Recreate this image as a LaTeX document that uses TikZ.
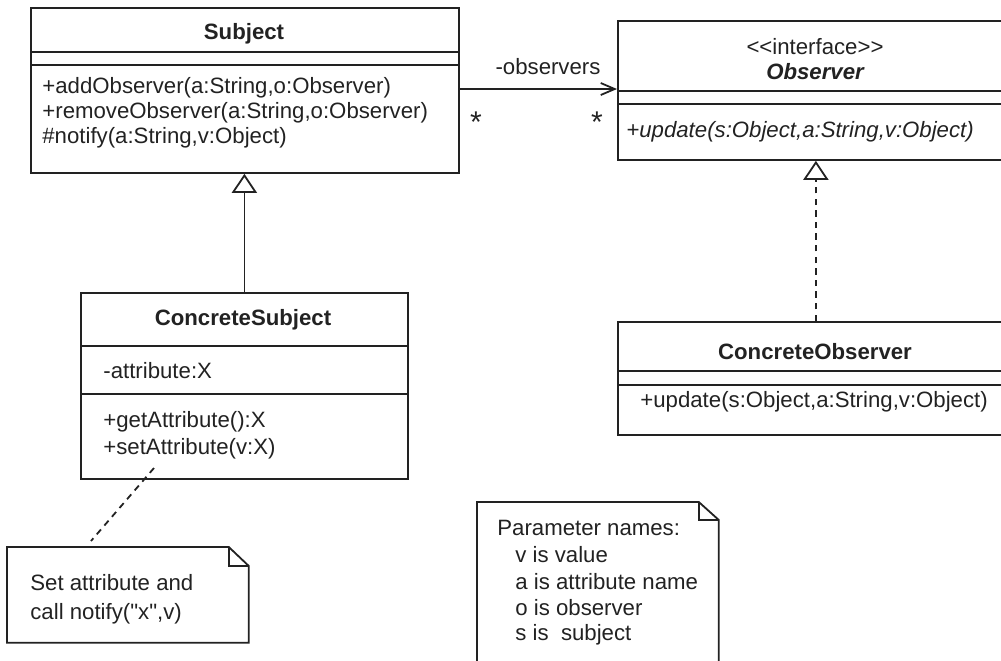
\documentclass[tikz,border=0pt]{standalone}
\usepackage{fontspec}
\setmainfont{Liberation Sans}
\newfontfamily\arialf{Liberation Sans}
\usetikzlibrary{arrows.meta}
\definecolor{ink}{HTML}{222222}
\begin{document}
\begin{tikzpicture}[x=0.5pt,y=-0.5pt,
  every node/.style={font=\arialf\fontsize{11.1pt}{12.5pt}\selectfont, text=ink},
  umlbox/.style={draw=ink, line width=0.9pt, inner sep=0, anchor=north west},
  hole/.style={inner sep=0, anchor=north west},
  txt/.style={inner sep=0, anchor=base west},
  ctxt/.style={inner sep=0, anchor=base},
  ln/.style={draw=ink, line width=0.9pt},
  gen/.style={ln, -{Triangle[open, length=9.5pt, width=12.5pt, fill=white]}},
  assoc/.style={ln, -{Straight Barb[length=7pt, width=6pt]}},
  dsh/.style={dash pattern=on 3.2pt off 2.6pt}
]
\useasboundingbox (0,0) rectangle (1001,660);
\clip (0,0) rectangle (1001,660);

% ---------- Subject ----------
\node[umlbox, minimum width=214pt, minimum height=82.5pt] (subject) at (30,7) {};
\draw[ln] (subject.west |- 0,52) -- (subject.east |- 0,52);
\draw[ln] (subject.west |- 0,65) -- (subject.east |- 0,65);
\node[ctxt, font=\arialf\fontsize{11.1pt}{12.5pt}\selectfont\bfseries] (subjt) at (244,39) {Subject};
\node[txt] (sm1) at (42,93) {+addObserver(a:String,o:Observer)};
\node[txt] (sm2) at (42,118) {+removeObserver(a:String,o:Observer)};
\node[txt] (sm3) at (42,143) {\#notify(a:String,v:Object)};

% ---------- Observer ----------
\node[umlbox, minimum width=198pt, minimum height=69.5pt] (observer) at (617,20) {};
\draw[ln] (observer.west |- 0,91) -- (observer.east |- 0,91);
\draw[ln] (observer.west |- 0,104) -- (observer.east |- 0,104);
\node[ctxt] (ster) at (815,54) {<<interface>>};
\node[ctxt, font=\arialf\fontsize{11.1pt}{12.5pt}\selectfont\bfseries\itshape] (obst) at (815,79) {Observer};
\node[txt, font=\arialf\fontsize{11.1pt}{12.5pt}\selectfont\itshape] (om1) at (626,137) {+update(s:Object,a:String,v:Object)};

% ---------- ConcreteSubject ----------
\node[umlbox, minimum width=163.5pt, minimum height=93pt] (csubject) at (80,292) {};
\draw[ln] (csubject.west |- 0,346) -- (csubject.east |- 0,346);
\draw[ln] (csubject.west |- 0,394) -- (csubject.east |- 0,394);
\node[ctxt, font=\arialf\fontsize{11.1pt}{12.5pt}\selectfont\bfseries] (cst) at (243,325) {ConcreteSubject};
\node[txt] (ca1) at (103,378) {-attribute:X};
\node[txt] (cm1) at (103,427) {+getAttribute():X};
\node[txt] (cm2) at (103,454) {+setAttribute(v:X)};

% ---------- ConcreteObserver ----------
\node[umlbox, minimum width=198pt, minimum height=56.5pt] (cobserver) at (617,321) {};
\draw[ln] (cobserver.west |- 0,371) -- (cobserver.east |- 0,371);
\draw[ln] (cobserver.west |- 0,385) -- (cobserver.east |- 0,385);
\node[ctxt, font=\arialf\fontsize{11.1pt}{12.5pt}\selectfont\bfseries] (cot) at (815,359) {ConcreteObserver};
\node[txt] (com1) at (640,407) {+update(s:Object,a:String,v:Object)};

% ---------- Notes ----------
\node[hole, minimum width=120.5pt, minimum height=47.5pt] (note1) at (7,547) {};
\draw[ln] (note1.north west) -- ([xshift=-10pt]note1.north east) -- ([yshift=-9.5pt]note1.north east)
  -- (note1.south east) -- (note1.south west) -- cycle;
\draw[ln] ([xshift=-10pt]note1.north east) |- ([yshift=-9.5pt]note1.north east);
\node[txt] (n1a) at (30,590) {Set attribute and};
\node[txt] (n1b) at (30,619) {call notify("x",v)};

\node[hole, minimum width=120.5pt, minimum height=89pt] (note2) at (477,502) {};
\draw[ln] (note2.north west) -- ([xshift=-10pt]note2.north east) -- ([yshift=-9pt]note2.north east)
  -- (note2.south east) -- (note2.south west) -- cycle;
\draw[ln] ([xshift=-10pt]note2.north east) |- ([yshift=-9pt]note2.north east);
\node[txt] (n2a) at (497,535) {Parameter names:};
\node[txt] (n2b) at (515,562) {v is value};
\node[txt] (n2c) at (515,589) {a is attribute name};
\node[txt] (n2d) at (515,615) {o is observer};
\node[txt] (n2e) at (515,640) {s is\ \ subject};

% ---------- Connectors ----------
\draw[assoc] (subject.east |- 0,89) -- (observer.west |- 0,89);
\node[ctxt] (rolelbl) at (548,74) {-observers};
\node[ctxt, font=\arialf\fontsize{15pt}{16pt}\selectfont] (mult1) at (476,132) {*};
\node[ctxt, font=\arialf\fontsize{15pt}{16pt}\selectfont] (mult2) at (597,132) {*};

\draw[gen] (csubject.north) -- (subject.south -| csubject.north);
\draw[gen, dsh] (cobserver.north) -- (observer.south -| cobserver.north);

\coordinate (nl1) at (154,468);
\coordinate (nl2) at (91,541);
\draw[ln, dsh] (nl1) -- (nl2);
\end{tikzpicture}
\end{document}
